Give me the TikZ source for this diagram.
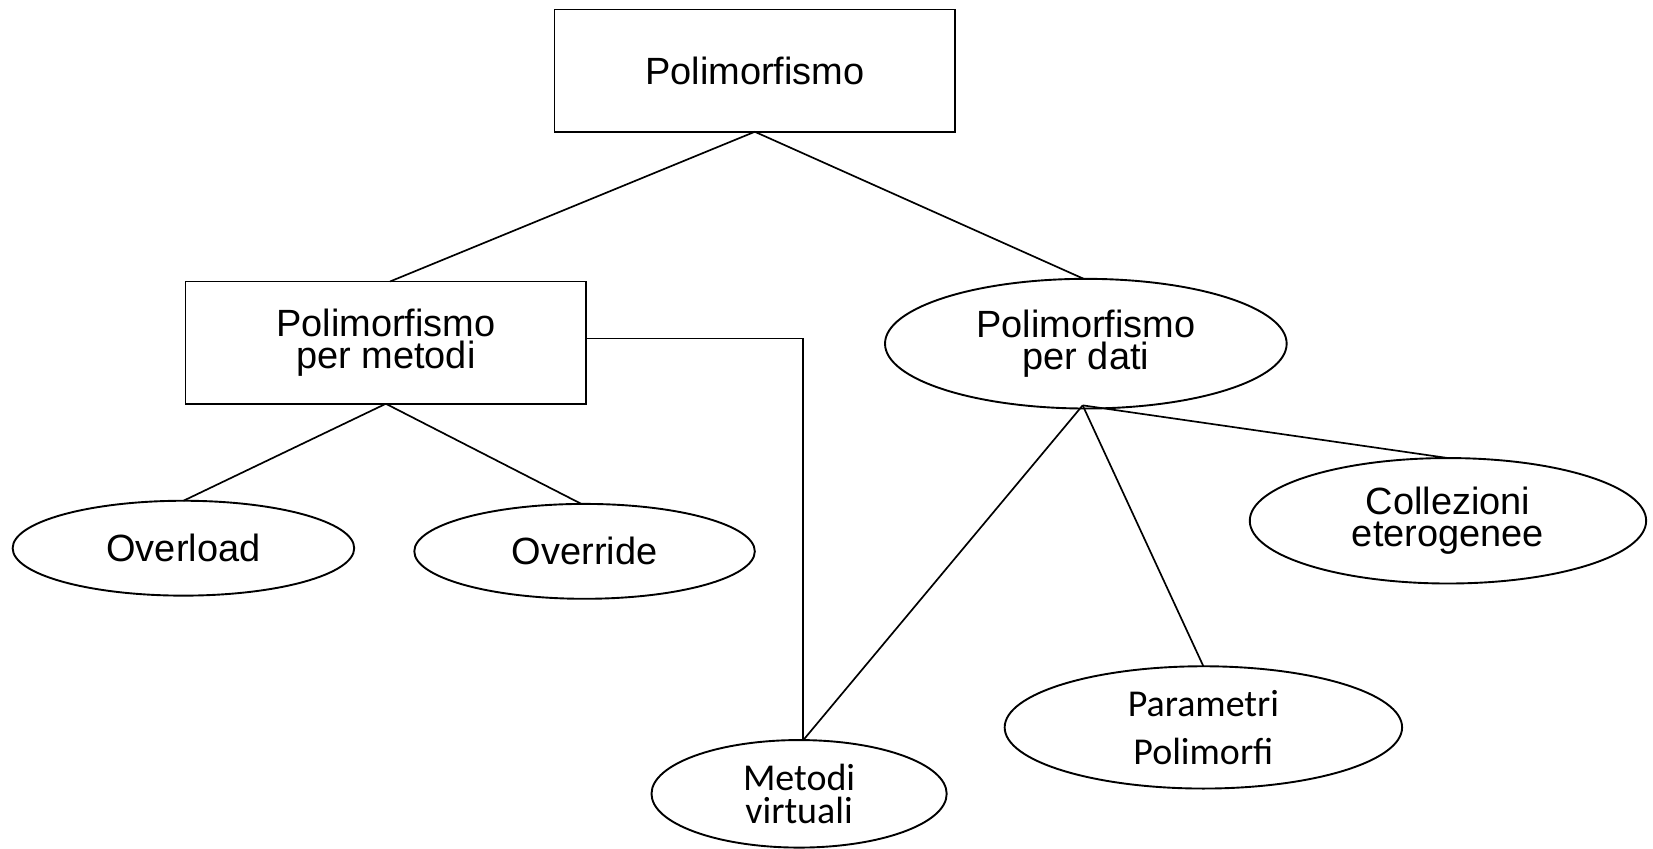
\documentclass[tikz,border=0pt]{standalone}
\usepackage{fontspec}
\setmainfont{Liberation Sans}
\newfontfamily\humfont{Carlito}
\usetikzlibrary{shapes.geometric}
\begin{document}
\begin{tikzpicture}[x=1pt,y=-1pt,
  box/.style={draw,line width=1.8pt,rectangle,minimum width=380pt,minimum height=116pt,inner sep=0pt,outer sep=0pt,align=center,font=\fontsize{36}{31}\selectfont},
  ell/.style={draw,line width=1.8pt,ellipse,inner sep=0pt,outer sep=0pt,align=center,font=\fontsize{36}{31}\selectfont},
  conn/.style={line width=1.6pt}]
\useasboundingbox (0,0) rectangle (1568,805);
\node[box] (top) at (716,67) {Polimorfismo};
\node[box] (pm) at (366,325) {Polimorfismo\\per metodi};
\node[ell,minimum width=381pt,minimum height=123pt] (pd) at (1030,326) {Polimorfismo\\per dati};
\node[ell,minimum width=324pt,minimum height=90pt] (ol) at (174,520) {Overload};
\node[ell,minimum width=323pt,minimum height=90pt] (or) at (554.5,523) {Override};
\node[ell,minimum width=280pt,minimum height=102pt,font=\humfont\fontsize{36}{31}\selectfont] (mv) at (758,753) {Metodi\\virtuali};
\node[ell,minimum width=376pt,minimum height=119pt] (ce) at (1373.5,494) {Collezioni\\eterogenee};
\node[ell,minimum width=377pt,minimum height=116pt,font=\humfont\fontsize{36}{45}\selectfont] (pp) at (1141.5,690) {Parametri\\Polimorfi};
\draw[conn] (top.south) -- ([xshift=4pt]pm.north);
\draw[conn] (top.south) -- ([xshift=-2pt]pd.north);
\draw[conn] (pm.south) -- (ol.north);
\draw[conn] (pm.south) -- ([xshift=-3pt]or.north);
\draw[conn] ([yshift=4pt]pm.east) -| ([xshift=4pt]mv.north);
\draw[conn] ([xshift=-3pt,yshift=3pt]pd.south) -- ([xshift=4pt]mv.north);
\draw[conn] ([xshift=-3pt,yshift=3pt]pd.south) -- (pp.north);
\draw[conn] ([xshift=-3pt,yshift=3pt]pd.south) -- (ce.north);
\end{tikzpicture}
\end{document}
